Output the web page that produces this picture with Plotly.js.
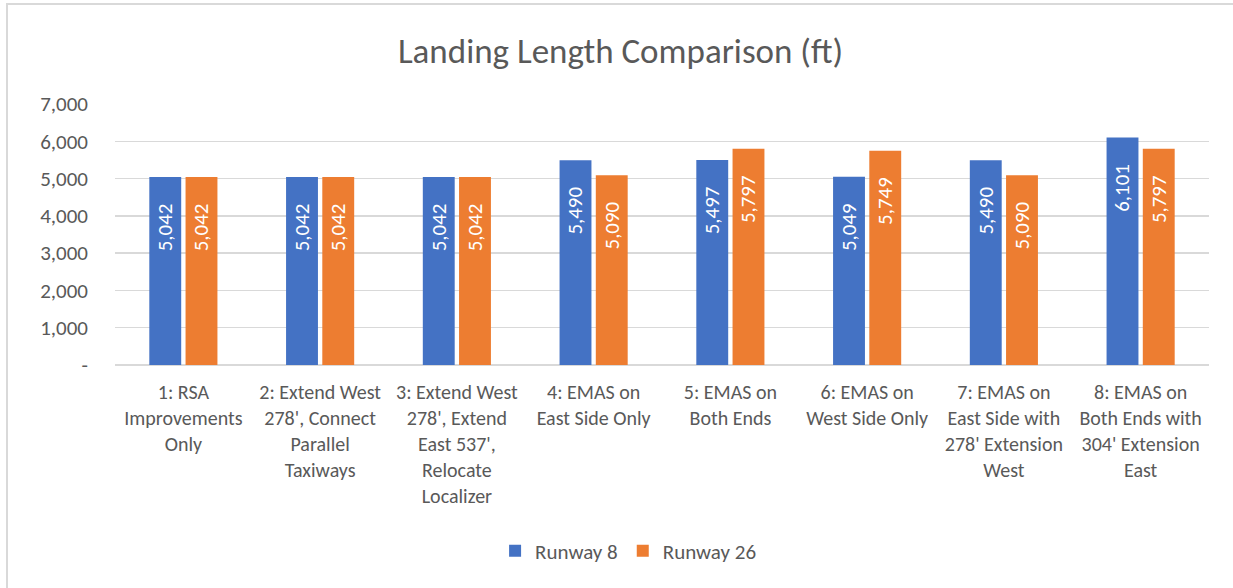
<!DOCTYPE html>
<html>
<head>
<meta charset="utf-8">
<script src="https://cdn.plot.ly/plotly-3.0.1.min.js"></script>
<style>
  html, body { margin: 0; padding: 0; background: #fff; }
  #frame { position: absolute; left: 6px; top: 3px; width: 1227px; height: 585px;
           border-top: 2px solid #d9d9d9; border-left: 2px solid #d9d9d9; box-sizing: border-box; }
  #chart { width: 1225px; height: 583px; }
</style>
</head>
<body>
<div id="frame"><div id="chart"></div></div>
<script>
const categories = [
  "1: RSA<br>Improvements<br>Only",
  "2: Extend West<br>278', Connect<br>Parallel<br>Taxiways",
  "3: Extend West<br>278', Extend<br>East 537',<br>Relocate<br>Localizer",
  "4: EMAS on<br>East Side Only",
  "5: EMAS on<br>Both Ends",
  "6: EMAS on<br>West Side Only",
  "7: EMAS on<br>East Side with<br>278' Extension<br>West",
  "8: EMAS on<br>Both Ends with<br>304' Extension<br>East"
];
const runway8  = [5042, 5042, 5042, 5490, 5497, 5049, 5490, 6101];
const runway26 = [5042, 5042, 5042, 5090, 5797, 5749, 5090, 5797];
const yTickVals = [0, 1000, 2000, 3000, 4000, 5000, 6000, 7000];
const yTickText = ["-", "1,000", "2,000", "3,000", "4,000", "5,000", "6,000", "7,000"];

const FONT = "Carlito, Lato, 'Open Sans', sans-serif";

function barTrace(name, vals, color) {
  return {
    type: 'bar', name: name, x: categories, y: vals,
    marker: { color: color },
    text: vals.map(v => v.toLocaleString('en-US') + '\u00a0\u00a0\u00a0\u00a0\u00a0'),
    textposition: 'inside', insidetextanchor: 'end', textangle: -90,
    textfont: { color: '#ffffff', size: 21, family: FONT },
    hoverinfo: 'x+y', cliponaxis: false
  };
}

const data = [
  barTrace('Runway 8', runway8, '#4472C4'),
  barTrace('Runway 26', runway26, '#ED7D31')
];

const layout = {
  width: 1225, height: 583,
  margin: { l: 107, r: 24, t: 99, b: 223 },
  paper_bgcolor: '#ffffff', plot_bgcolor: '#ffffff',
  font: { family: FONT, color: '#595959', size: 20 },
  title: { text: 'Landing Length Comparison (ft)', x: 0.5, xanchor: 'center',
           y: 1 - 46 / 583, yanchor: 'middle', yref: 'container',
           font: { family: FONT, size: 35, weight: 300, color: '#595959' } },
  barmode: 'group', bargap: 0.47, bargroupgap: 0.12,
  showlegend: true,
  legend: { orientation: 'h', x: 0.469, xanchor: 'center', y: -0.713, yanchor: 'middle',
            font: { family: FONT, size: 21, color: '#595959' }, itemwidth: 30 },
  xaxis: { type: 'category', showgrid: false, showline: false, ticks: '',
           tickfont: { family: FONT, size: 20, color: '#595959' }, tickangle: 0,
           ticklabelstandoff: 13, automargin: false },
  yaxis: { range: [0, 7000], tickvals: yTickVals, ticktext: yTickText,
           showgrid: true, gridcolor: '#d9d9d9', gridwidth: 1.5,
           zeroline: true, zerolinecolor: '#d9d9d9', zerolinewidth: 1.5,
           showline: false, ticks: '', ticklabelstandoff: 26,
           tickfont: { family: FONT, size: 21, color: '#595959' }, automargin: false }
};

Plotly.newPlot('chart', data, layout, { displayModeBar: false, staticPlot: true });
</script>
</body>
</html>
